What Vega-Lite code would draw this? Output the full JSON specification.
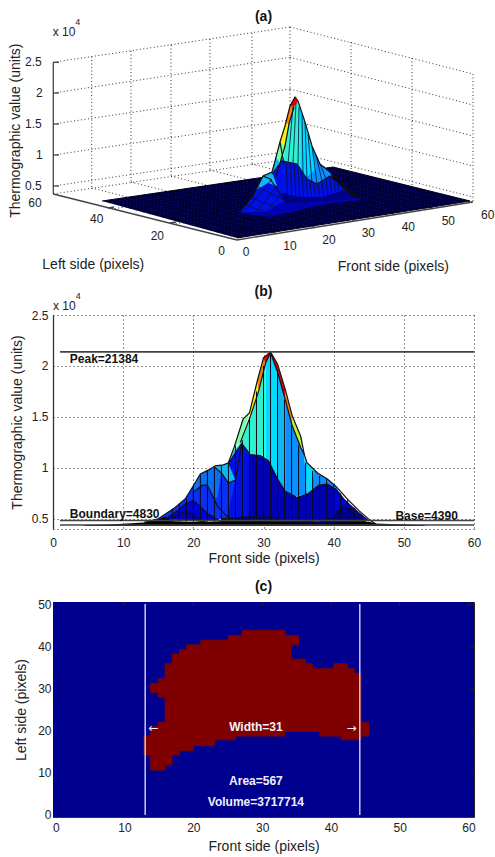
{
"$schema":"https://vega.github.io/schema/vega-lite/v6.json",
"padding":{"left":8,"top":9,"right":0,"bottom":0},
"bounds":"flush",
"spacing":73,
"background":"white",
"config":{"view":{"stroke":null},"font":"Liberation Sans",
"text":{"baseline":"middle"},
"axis":{"labelFont":"Liberation Sans","titleFont":"Liberation Sans","labelFontSize":12,"titleFontSize":14,"labelColor":"#222","titleColor":"#222","titleFontWeight":"normal"},
"title":{"font":"Liberation Sans","fontSize":14,"fontWeight":"bold","color":"#111"}},
"datasets":{
"aWalls":[
{"x":53.3,"y":63.3,"x2":290,"y2":28},{"x":53.3,"y":94,"x2":290,"y2":58.3},{"x":53.3,"y":125,"x2":290,"y2":90},{"x":53.3,"y":156,"x2":290,"y2":121},{"x":53.3,"y":187,"x2":290,"y2":152},{"x":53.3,"y":195,"x2":290,"y2":160},
{"x":290,"y":28,"x2":473,"y2":75},{"x":290,"y":58.3,"x2":473,"y2":106},{"x":290,"y":90,"x2":473,"y2":137},{"x":290,"y":121,"x2":473,"y2":167},{"x":290,"y":152,"x2":473,"y2":198},{"x":290,"y":160,"x2":473,"y2":203},
{"x":91.7,"y":57.5,"x2":91.7,"y2":189},{"x":131,"y":52,"x2":131,"y2":183},{"x":171,"y":46,"x2":171,"y2":177},{"x":210,"y":40,"x2":210,"y2":171},{"x":252,"y":34,"x2":252,"y2":165},{"x":290,"y":28,"x2":290,"y2":160},
{"x":351,"y":43,"x2":351,"y2":174},{"x":412,"y":59,"x2":412,"y2":189},{"x":473,"y":75,"x2":473,"y2":203},
{"x":91.7,"y":189,"x2":273,"y2":235},{"x":131,"y":183,"x2":311.5,"y2":229},{"x":171,"y":177,"x2":350,"y2":223},{"x":210,"y":171,"x2":388.7,"y2":216.6},{"x":252,"y":165,"x2":429,"y2":210},
{"x":351,"y":174,"x2":112,"y2":210},{"x":412,"y":189,"x2":172.7,"y2":225}
],
"aAxes":[
{"x":53.3,"y":63.3,"x2":53.3,"y2":195},{"x":53.3,"y":195,"x2":237,"y2":241},{"x":237,"y":241,"x2":473,"y2":203},
{"x":53.3,"y":63.3,"x2":59,"y2":63.3},{"x":53.3,"y":94,"x2":59,"y2":94},{"x":53.3,"y":125,"x2":59,"y2":125},{"x":53.3,"y":156,"x2":59,"y2":156},{"x":53.3,"y":187,"x2":59,"y2":187},
{"x":108,"y":209,"x2":114,"y2":208},{"x":170,"y":224,"x2":176,"y2":223},{"x":276,"y":235,"x2":273,"y2":232},{"x":315,"y":229,"x2":312,"y2":226},{"x":354,"y":222,"x2":351,"y2":219},{"x":394,"y":216,"x2":391,"y2":213},{"x":433,"y":210,"x2":430,"y2":207}
],
"aMesh":[
{"x":230.3,"y":237.2,"x2":463.2,"y2":200.3},{"x":223.5,"y":235.3,"x2":456.3,"y2":198.6},{"x":216.8,"y":233.5,"x2":449.5,"y2":196.9},{"x":210,"y":231.6,"x2":442.6,"y2":195.2},{"x":203.3,"y":229.8,"x2":435.8,"y2":193.5},{"x":196.5,"y":227.9,"x2":428.9,"y2":191.8},{"x":189.8,"y":226.1,"x2":422.1,"y2":190.1},{"x":183,"y":224.2,"x2":415.2,"y2":188.4},{"x":176.3,"y":222.4,"x2":408.4,"y2":186.7},{"x":169.5,"y":220.5,"x2":401.5,"y2":185},{"x":162.8,"y":218.7,"x2":394.7,"y2":183.3},{"x":156,"y":216.8,"x2":387.8,"y2":181.6},{"x":149.3,"y":215,"x2":381,"y2":179.9},{"x":142.5,"y":213.1,"x2":374.1,"y2":178.2},{"x":135.8,"y":211.3,"x2":367.3,"y2":176.5},{"x":129,"y":209.4,"x2":360.4,"y2":174.8},{"x":122.3,"y":207.6,"x2":353.6,"y2":173.1},{"x":115.5,"y":205.7,"x2":346.7,"y2":171.4},{"x":108.8,"y":203.9,"x2":339.9,"y2":169.7},
{"x":248.7,"y":237.2,"x2":113.6,"y2":200.3},{"x":260.3,"y":235.3,"x2":125.1,"y2":198.6},{"x":272,"y":233.5,"x2":136.7,"y2":196.9},{"x":283.6,"y":231.6,"x2":148.2,"y2":195.2},{"x":295.3,"y":229.8,"x2":159.8,"y2":193.5},{"x":306.9,"y":227.9,"x2":171.3,"y2":191.8},{"x":318.6,"y":226.1,"x2":182.9,"y2":190.1},{"x":330.2,"y":224.2,"x2":194.4,"y2":188.4},{"x":341.9,"y":222.4,"x2":206,"y2":186.7},{"x":353.5,"y":220.5,"x2":217.5,"y2":185},{"x":365.2,"y":218.7,"x2":229.1,"y2":183.3},{"x":376.8,"y":216.8,"x2":240.6,"y2":181.6},{"x":388.5,"y":215,"x2":252.2,"y2":179.9},{"x":400.1,"y":213.1,"x2":263.7,"y2":178.2},{"x":411.8,"y":211.3,"x2":275.3,"y2":176.5},{"x":423.4,"y":209.4,"x2":286.8,"y2":174.8},{"x":435.1,"y":207.6,"x2":298.4,"y2":173.1},{"x":446.7,"y":205.7,"x2":309.9,"y2":171.4},{"x":458.4,"y":203.9,"x2":321.5,"y2":169.7}
],
"aFloor":[{"p":"floor","b":"floor","x":102,"y":202},{"p":"floor","b":"floor","x":333,"y":168},{"p":"floor","b":"floor","x":470,"y":202},{"p":"floor","b":"floor","x":237,"y":239}],
"aPolys":[
{"p":"skirt","b":"dark","x":240,"y":214},{"p":"skirt","b":"dark","x":262,"y":203},{"p":"skirt","b":"dark","x":350,"y":197},{"p":"skirt","b":"dark","x":362,"y":201},{"p":"skirt","b":"dark","x":320,"y":206},{"p":"skirt","b":"dark","x":270,"y":218},
{"p":"sky","b":"sky","x":312,"y":147},{"p":"sky","b":"sky","x":320,"y":165},{"p":"sky","b":"sky","x":330,"y":173},{"p":"sky","b":"sky","x":332,"y":178},{"p":"sky","b":"sky","x":316,"y":186},{"p":"sky","b":"sky","x":305,"y":180},{"p":"sky","b":"sky","x":303,"y":160},
{"p":"cy","b":"cyan","x":298,"y":102},{"p":"cy","b":"cyan","x":305,"y":123},{"p":"cy","b":"cyan","x":312,"y":147},{"p":"cy","b":"cyan","x":316,"y":170},{"p":"cy","b":"cyan","x":305,"y":180},{"p":"cy","b":"cyan","x":297,"y":165},{"p":"cy","b":"cyan","x":299,"y":130},
{"p":"tl","b":"teal","x":293,"y":108},{"p":"tl","b":"teal","x":298,"y":102},{"p":"tl","b":"teal","x":301,"y":130},{"p":"tl","b":"teal","x":300,"y":168},{"p":"tl","b":"teal","x":283,"y":163},{"p":"tl","b":"teal","x":285,"y":148},{"p":"tl","b":"teal","x":288,"y":125},
{"p":"az","b":"azure","x":272,"y":175},{"p":"az","b":"azure","x":276,"y":157},{"p":"az","b":"azure","x":283,"y":157},{"p":"az","b":"azure","x":284,"y":165},{"p":"az","b":"azure","x":276,"y":180},
{"p":"gr","b":"green","x":276,"y":158},{"p":"gr","b":"green","x":280,"y":141},{"p":"gr","b":"green","x":285,"y":147},{"p":"gr","b":"green","x":283,"y":158},{"p":"gr","b":"green","x":280,"y":164},
{"p":"ye","b":"yellow","x":280,"y":143},{"p":"ye","b":"yellow","x":286,"y":122},{"p":"ye","b":"yellow","x":289,"y":125},{"p":"ye","b":"yellow","x":285,"y":147},
{"p":"or","b":"orange","x":286,"y":124},{"p":"or","b":"orange","x":290,"y":106},{"p":"or","b":"orange","x":294,"y":108},{"p":"or","b":"orange","x":289,"y":125},
{"p":"rd","b":"red","x":290,"y":107},{"p":"rd","b":"red","x":295,"y":98},{"p":"rd","b":"red","x":298,"y":102},{"p":"rd","b":"red","x":294,"y":108},
{"p":"arch","b":"blue1","x":272,"y":175},{"p":"arch","b":"blue1","x":282,"y":162},{"p":"arch","b":"blue1","x":297,"y":165},{"p":"arch","b":"blue1","x":307,"y":180},{"p":"arch","b":"blue1","x":317,"y":185},{"p":"arch","b":"blue1","x":330,"y":177},{"p":"arch","b":"blue1","x":343,"y":188},{"p":"arch","b":"blue1","x":353,"y":198},{"p":"arch","b":"blue1","x":360,"y":200},{"p":"arch","b":"blue1","x":300,"y":204},{"p":"arch","b":"blue1","x":277,"y":204},
{"p":"archlow","b":"navy","x":282,"y":194},{"p":"archlow","b":"navy","x":300,"y":198},{"p":"archlow","b":"navy","x":322,"y":198},{"p":"archlow","b":"navy","x":345,"y":191},{"p":"archlow","b":"navy","x":353,"y":198},{"p":"archlow","b":"navy","x":360,"y":200},{"p":"archlow","b":"navy","x":300,"y":204},{"p":"archlow","b":"navy","x":284,"y":204},
{"p":"lobe","b":"blue1","x":240,"y":213},{"p":"lobe","b":"blue1","x":253,"y":197},{"p":"lobe","b":"blue1","x":263,"y":177},{"p":"lobe","b":"blue1","x":272,"y":173},{"p":"lobe","b":"blue1","x":277,"y":187},{"p":"lobe","b":"blue1","x":284,"y":201},{"p":"lobe","b":"blue1","x":267,"y":213},
{"p":"lobetop","b":"azure","x":263,"y":177},{"p":"lobetop","b":"azure","x":272,"y":173},{"p":"lobetop","b":"azure","x":277,"y":187},{"p":"lobetop","b":"azure","x":268,"y":184},{"p":"lobetop","b":"azure","x":256,"y":191}
],
"aOutline":[
{"p":"s","x":240,"y":213},{"p":"s","x":253,"y":197},{"p":"s","x":263,"y":177},{"p":"s","x":272,"y":173},{"p":"s","x":275,"y":162},{"p":"s","x":280,"y":143},{"p":"s","x":285,"y":127},{"p":"s","x":290,"y":107},{"p":"s","x":295,"y":98},{"p":"s","x":298,"y":102},{"p":"s","x":305,"y":123},{"p":"s","x":312,"y":147},{"p":"s","x":320,"y":165},{"p":"s","x":330,"y":173},{"p":"s","x":338,"y":180},{"p":"s","x":348,"y":190},{"p":"s","x":360,"y":200},
{"p":"r","x":294,"y":108},{"p":"r","x":289,"y":125},{"p":"r","x":285,"y":147},{"p":"r","x":276,"y":178},
{"p":"g","x":280,"y":143},{"p":"g","x":284,"y":165},
{"p":"a","x":272,"y":175},{"p":"a","x":282,"y":162},{"p":"a","x":297,"y":165},{"p":"a","x":307,"y":180},{"p":"a","x":317,"y":185},{"p":"a","x":330,"y":177},{"p":"a","x":343,"y":188},{"p":"a","x":353,"y":198},
{"p":"l","x":263,"y":177},{"p":"l","x":270,"y":180},{"p":"l","x":277,"y":190},{"p":"l","x":285,"y":203}
],
"aStripes":[
{"x":293,"y":108,"x2":288,"y2":165},{"x":296,"y":104,"x2":293,"y2":164},{"x":299,"y":108,"x2":298,"y2":166},{"x":302,"y":115,"x2":303,"y2":174},{"x":305,"y":123,"x2":307,"y2":180},{"x":308,"y":135,"x2":312,"y2":184},{"x":312,"y":147,"x2":317,"y2":185},{"x":316,"y":156,"x2":322,"y2":182},{"x":320,"y":165,"x2":326,"y2":180},
{"x":286,"y":162,"x2":288,"y2":204},{"x":290,"y":163,"x2":292,"y2":204},{"x":294,"y":164,"x2":296,"y2":204},{"x":298,"y":167,"x2":300,"y2":204},{"x":302,"y":173,"x2":304,"y2":204},{"x":306,"y":179,"x2":308,"y2":203},{"x":310,"y":182,"x2":312,"y2":203},{"x":314,"y":184,"x2":316,"y2":202},{"x":318,"y":184,"x2":320,"y2":202},{"x":322,"y":182,"x2":324,"y2":202},{"x":326,"y":179,"x2":328,"y2":201},{"x":330,"y":177,"x2":332,"y2":201},{"x":334,"y":180,"x2":336,"y2":201},{"x":338,"y":184,"x2":340,"y2":201},{"x":342,"y":187,"x2":344,"y2":200},
{"x":246,"y":206,"x2":272,"y2":216},{"x":252,"y":199,"x2":280,"y2":210},{"x":258,"y":188,"x2":284,"y2":201},{"x":245,"y":212,"x2":272,"y2":180},{"x":255,"y":214,"x2":277,"y2":187},{"x":265,"y":214,"x2":281,"y2":195}
],
"aText":[
{"x":33.3,"y":63.3,"t":"2.5"},{"x":39.3,"y":94,"t":"2"},{"x":33.3,"y":125,"t":"1.5"},{"x":39.3,"y":156,"t":"1"},{"x":33.3,"y":187,"t":"0.5"},
{"x":35,"y":204,"t":"60"},{"x":96.7,"y":220,"t":"40"},{"x":157.3,"y":236.7,"t":"20"},{"x":221.7,"y":251.7,"t":"0"},
{"x":246,"y":252.7,"t":"0"},{"x":290,"y":246.7,"t":"10"},{"x":329,"y":240.7,"t":"20"},{"x":368.3,"y":234.3,"t":"30"},{"x":408.3,"y":228.3,"t":"40"},{"x":448.3,"y":222.3,"t":"50"},{"x":487.7,"y":216,"t":"60"},
{"x":64,"y":33.3,"t":"x 10"}
],
"aTitles":[{"x":93.3,"y":265.7,"t":"Left side (pixels)"},{"x":393.3,"y":267.7,"t":"Front side (pixels)"}],
"bPolys":[
{"p":"green","b":"green","x":25.8,"y":12000},{"p":"green","b":"green","x":27.1,"y":14800},{"p":"green","b":"green","x":28,"y":15400},{"p":"green","b":"green","x":26.7,"y":12500},
{"p":"ye","b":"yellow","x":28,"y":15400},{"p":"ye","b":"yellow","x":29.1,"y":18500},{"p":"ye","b":"yellow","x":29.3,"y":17500},{"p":"ye","b":"yellow","x":28.1,"y":15000},
{"p":"or","b":"orange","x":29.1,"y":18500},{"p":"or","b":"orange","x":30,"y":20800},{"p":"or","b":"orange","x":30.3,"y":20300},{"p":"or","b":"orange","x":29.3,"y":17500},
{"p":"rd","b":"red","x":30,"y":20800},{"p":"rd","b":"red","x":31,"y":21384},{"p":"rd","b":"red","x":32,"y":20200},{"p":"rd","b":"red","x":33.1,"y":17700},{"p":"rd","b":"red","x":33.1,"y":16700},{"p":"rd","b":"red","x":32,"y":19400},{"p":"rd","b":"red","x":31,"y":21300},{"p":"rd","b":"red","x":30.3,"y":20300},
{"p":"orr","b":"orange","x":33.1,"y":17700},{"p":"orr","b":"orange","x":34.1,"y":15100},{"p":"orr","b":"orange","x":34.1,"y":14100},{"p":"orr","b":"orange","x":33.1,"y":16700},
{"p":"lm","b":"lime","x":34.1,"y":15100},{"p":"lm","b":"lime","x":35.3,"y":13100},{"p":"lm","b":"lime","x":35.7,"y":12000},{"p":"lm","b":"lime","x":35.3,"y":12000},{"p":"lm","b":"lime","x":34.1,"y":14100},
{"p":"tl","b":"teal","x":25.8,"y":11700},{"p":"tl","b":"teal","x":26.7,"y":12500},{"p":"tl","b":"teal","x":28.1,"y":15000},{"p":"tl","b":"teal","x":29.3,"y":17500},{"p":"tl","b":"teal","x":30.3,"y":20300},{"p":"tl","b":"teal","x":30.3,"y":10000},{"p":"tl","b":"teal","x":26,"y":10000},
{"p":"cy","b":"cyan","x":30.3,"y":20300},{"p":"cy","b":"cyan","x":31,"y":21300},{"p":"cy","b":"cyan","x":32,"y":19400},{"p":"cy","b":"cyan","x":33.1,"y":16700},{"p":"cy","b":"cyan","x":33.1,"y":7500},{"p":"cy","b":"cyan","x":30.3,"y":8000},
{"p":"az2","b":"azure","x":32,"y":19400},{"p":"az2","b":"azure","x":33.1,"y":16700},{"p":"az2","b":"azure","x":33.1,"y":7500},{"p":"az2","b":"azure","x":32,"y":8000},
{"p":"sky","b":"sky","x":33.1,"y":16700},{"p":"sky","b":"sky","x":34.1,"y":14100},{"p":"sky","b":"sky","x":35.3,"y":12000},{"p":"sky","b":"sky","x":35.8,"y":11300},{"p":"sky","b":"sky","x":36.2,"y":7400},{"p":"sky","b":"sky","x":33.1,"y":7000},
{"p":"cr","b":"cyan","x":35.8,"y":11300},{"p":"cr","b":"cyan","x":36.2,"y":10500},{"p":"cr","b":"cyan","x":37.7,"y":9500},{"p":"cr","b":"cyan","x":38,"y":8000},{"p":"cr","b":"cyan","x":36.2,"y":7400},
{"p":"sr","b":"sky","x":37.2,"y":9800},{"p":"sr","b":"sky","x":37.7,"y":9500},{"p":"sr","b":"sky","x":39.1,"y":8900},{"p":"sr","b":"sky","x":40.3,"y":8200},{"p":"sr","b":"sky","x":41.5,"y":6900},{"p":"sr","b":"sky","x":40,"y":7900},{"p":"sr","b":"sky","x":37,"y":8000},
{"p":"lowerleft","b":"blue2","x":15,"y":5000},{"p":"lowerleft","b":"blue2","x":17.2,"y":6000},{"p":"lowerleft","b":"blue2","x":18.9,"y":7000},{"p":"lowerleft","b":"blue2","x":20,"y":8250},{"p":"lowerleft","b":"blue2","x":24,"y":9500},{"p":"lowerleft","b":"blue2","x":25,"y":8500},{"p":"lowerleft","b":"blue2","x":26,"y":8800},{"p":"lowerleft","b":"blue2","x":28,"y":5200},{"p":"lowerleft","b":"blue2","x":15,"y":4600},
{"p":"lb","b":"blue3","x":20,"y":8250},{"p":"lb","b":"blue3","x":21,"y":9400},{"p":"lb","b":"blue3","x":22.2,"y":9800},{"p":"lb","b":"blue3","x":23,"y":10100},{"p":"lb","b":"blue3","x":24,"y":9500},{"p":"lb","b":"blue3","x":23.4,"y":7000},{"p":"lb","b":"blue3","x":20,"y":7600},
{"p":"azp","b":"azure","x":23,"y":10100},{"p":"azp","b":"azure","x":24.3,"y":10300},{"p":"azp","b":"azure","x":25,"y":10500},{"p":"azp","b":"azure","x":25.8,"y":11700},{"p":"azp","b":"azure","x":26.3,"y":12000},{"p":"azp","b":"azure","x":26,"y":8800},{"p":"azp","b":"azure","x":25,"y":8500},{"p":"azp","b":"azure","x":24,"y":9500},
{"p":"bl1","b":"blue1","x":25,"y":10400},{"p":"bl1","b":"blue1","x":26.9,"y":12400},{"p":"bl1","b":"blue1","x":28.1,"y":11300},{"p":"bl1","b":"blue1","x":28.1,"y":5200},{"p":"bl1","b":"blue1","x":24.8,"y":5200},{"p":"bl1","b":"blue1","x":26,"y":8800},
{"p":"dk","b":"dark","x":28,"y":11300},{"p":"dk","b":"dark","x":29.5,"y":11200},{"p":"dk","b":"dark","x":30.7,"y":10700},{"p":"dk","b":"dark","x":32,"y":8900},{"p":"dk","b":"dark","x":33.1,"y":7700},{"p":"dk","b":"dark","x":34.8,"y":7100},{"p":"dk","b":"dark","x":36.2,"y":7400},{"p":"dk","b":"dark","x":37.9,"y":8300},{"p":"dk","b":"dark","x":39.1,"y":8400},{"p":"dk","b":"dark","x":40.3,"y":7900},{"p":"dk","b":"dark","x":41.5,"y":6900},{"p":"dk","b":"dark","x":42.9,"y":6000},{"p":"dk","b":"dark","x":45,"y":4800},{"p":"dk","b":"dark","x":28,"y":4800},
{"p":"br","b":"blue0","x":40.3,"y":7900},{"p":"br","b":"blue0","x":41.5,"y":6900},{"p":"br","b":"blue0","x":42.9,"y":6000},{"p":"br","b":"blue0","x":45,"y":4800},{"p":"br","b":"blue0","x":43.9,"y":5000},{"p":"br","b":"blue0","x":42.4,"y":6000},{"p":"br","b":"blue0","x":41.2,"y":6200},{"p":"br","b":"blue0","x":39.8,"y":5100},
{"p":"bump","b":"blue2","x":20,"y":7600},{"p":"bump","b":"blue2","x":21.3,"y":8300},{"p":"bump","b":"blue2","x":22,"y":8300},{"p":"bump","b":"blue2","x":23.4,"y":6300},{"p":"bump","b":"blue2","x":24.8,"y":5200},{"p":"bump","b":"blue2","x":26.2,"y":5000},{"p":"bump","b":"blue2","x":17,"y":4800},
{"p":"l1","b":"blue0","x":16,"y":5000},{"p":"l1","b":"blue0","x":17.2,"y":5500},{"p":"l1","b":"blue0","x":18.9,"y":6500},{"p":"l1","b":"blue0","x":20,"y":6800},{"p":"l1","b":"blue0","x":21,"y":6200},{"p":"l1","b":"blue0","x":22,"y":5500},{"p":"l1","b":"blue0","x":24,"y":4700},
{"p":"l2","b":"dark","x":17,"y":5100},{"p":"l2","b":"dark","x":18,"y":5500},{"p":"l2","b":"dark","x":19,"y":5800},{"p":"l2","b":"dark","x":20.3,"y":5200},{"p":"l2","b":"dark","x":22,"y":4600},
{"p":"front","b":"navy","x":24,"y":5000},{"p":"front","b":"navy","x":29.6,"y":5300},{"p":"front","b":"navy","x":33,"y":4800},{"p":"front","b":"navy","x":37.9,"y":4700},{"p":"front","b":"navy","x":39.8,"y":5100},{"p":"front","b":"navy","x":41.2,"y":6200},{"p":"front","b":"navy","x":42.4,"y":6000},{"p":"front","b":"navy","x":43.9,"y":5000},{"p":"front","b":"navy","x":45,"y":4600},{"p":"front","b":"navy","x":24,"y":4400},
{"p":"base","b":"black","x":4.5,"y":4370},{"p":"base","b":"black","x":8,"y":4450},{"p":"base","b":"black","x":13,"y":4650},{"p":"base","b":"black","x":15,"y":4950},{"p":"base","b":"black","x":16,"y":5200},{"p":"base","b":"black","x":17,"y":4800},{"p":"base","b":"black","x":17,"y":4700},{"p":"base","b":"black","x":30,"y":4720},{"p":"base","b":"black","x":38,"y":4600},{"p":"base","b":"black","x":45,"y":4700},{"p":"base","b":"black","x":46,"y":4550},{"p":"base","b":"black","x":53,"y":4370},{"p":"base","b":"black","x":53,"y":4300},{"p":"base","b":"black","x":4.5,"y":4300}
],
"bOutline":[
{"p":"s","x":13,"y":4650},{"p":"s","x":15,"y":5000},{"p":"s","x":17.2,"y":6000},{"p":"s","x":18.9,"y":7000},{"p":"s","x":20,"y":8250},{"p":"s","x":21,"y":9400},{"p":"s","x":22.2,"y":9800},{"p":"s","x":23.1,"y":10200},{"p":"s","x":24.3,"y":10300},{"p":"s","x":25,"y":10500},{"p":"s","x":25.8,"y":12000},{"p":"s","x":27.1,"y":14800},{"p":"s","x":28,"y":15400},{"p":"s","x":29.1,"y":18500},{"p":"s","x":30,"y":20800},{"p":"s","x":31,"y":21384},{"p":"s","x":32,"y":20200},{"p":"s","x":33.1,"y":17700},{"p":"s","x":34.1,"y":15100},{"p":"s","x":35.3,"y":13100},{"p":"s","x":35.8,"y":11350},{"p":"s","x":36.2,"y":10500},{"p":"s","x":37.7,"y":9500},{"p":"s","x":39.1,"y":8900},{"p":"s","x":40.3,"y":8200},{"p":"s","x":42,"y":6900},{"p":"s","x":43.6,"y":5800},{"p":"s","x":45.3,"y":4800},{"p":"s","x":46,"y":4500},
{"p":"c","x":26.7,"y":12500},{"p":"c","x":28.1,"y":15000},{"p":"c","x":29.3,"y":17500},{"p":"c","x":30.3,"y":20300},{"p":"c","x":31,"y":21300},{"p":"c","x":32,"y":19400},{"p":"c","x":33.1,"y":16700},{"p":"c","x":34.1,"y":14100},{"p":"c","x":35.3,"y":12000},{"p":"c","x":35.8,"y":11350},
{"p":"d","x":25,"y":10400},{"p":"d","x":26.9,"y":12400},{"p":"d","x":28.1,"y":11300},{"p":"d","x":29.5,"y":11200},{"p":"d","x":30.7,"y":10700},{"p":"d","x":32,"y":8900},{"p":"d","x":33.1,"y":7700},{"p":"d","x":34.8,"y":7100},{"p":"d","x":36.2,"y":7400},{"p":"d","x":37.9,"y":8300},{"p":"d","x":39.1,"y":8400},{"p":"d","x":40.3,"y":7900},{"p":"d","x":41.5,"y":6900},{"p":"d","x":42.9,"y":6000},{"p":"d","x":45,"y":4800},
{"p":"e","x":23,"y":10100},{"p":"e","x":24,"y":9500},{"p":"e","x":25,"y":8500},{"p":"e","x":26,"y":8800},{"p":"e","x":26.9,"y":12400},
{"p":"f","x":20,"y":7600},{"p":"f","x":21.3,"y":8300},{"p":"f","x":22,"y":8300},{"p":"f","x":23.4,"y":6300},{"p":"f","x":24.8,"y":5200},{"p":"f","x":26.2,"y":5000},
{"p":"g","x":16,"y":5000},{"p":"g","x":17.2,"y":5500},{"p":"g","x":18.9,"y":6500},{"p":"g","x":20,"y":6800},{"p":"g","x":21,"y":6200},{"p":"g","x":22,"y":5500},{"p":"g","x":24,"y":4700},
{"p":"h","x":17,"y":5100},{"p":"h","x":18,"y":5500},{"p":"h","x":19,"y":5800},{"p":"h","x":20.3,"y":5200},{"p":"h","x":22,"y":4600},
{"p":"i","x":24,"y":5000},{"p":"i","x":29.6,"y":5300},{"p":"i","x":33,"y":4800},{"p":"i","x":37.9,"y":4700},{"p":"i","x":39.8,"y":5100},{"p":"i","x":41.2,"y":6200},{"p":"i","x":42.4,"y":6000},{"p":"i","x":43.9,"y":5000}
],
"bColumns":[
{"x":17,"top":6000},{"x":18,"top":6500},{"x":19,"top":7000},{"x":20,"top":8250},{"x":21,"top":9300},{"x":22,"top":9700},{"x":23,"top":10100},{"x":24,"top":10200},{"x":25,"top":10400},{"x":26,"top":12200},{"x":27,"top":12700},{"x":28,"top":15000},{"x":29,"top":17500},{"x":30,"top":20000},{"x":31,"top":21300},{"x":32,"top":19400},{"x":33,"top":16700},{"x":34,"top":14200},{"x":35,"top":12200},{"x":36,"top":10500},{"x":37,"top":9700},{"x":38,"top":9200},{"x":39,"top":8900},{"x":40,"top":8300},{"x":41,"top":7500},{"x":42,"top":6900},{"x":43,"top":6100},{"x":44,"top":5400}
],
"bLines":[
{"k":"Peak","x":1,"x2":60,"y":21384},{"k":"Boundary","x":1,"x2":60,"y":4830},{"k":"Base","x":1,"x2":60,"y":4390}
],
"cBg":[{"k":"bg","x":-0.4,"x2":60.8,"y":-0.48,"y2":50.7}],
"cSpans":[
{"k":"r","x":27.1,"x2":33.3,"y":42.7,"y2":44},{"k":"r","x":25.1,"x2":35.3,"y":41.6,"y2":42.7},{"k":"r","x":21.1,"x2":35.3,"y":40.5,"y2":41.6},{"k":"r","x":19,"x2":34.2,"y":39.4,"y2":40.5},{"k":"r","x":18,"x2":34.2,"y":38.3,"y2":39.4},{"k":"r","x":16.9,"x2":34.2,"y":37.1,"y2":38.3},{"k":"r","x":16.9,"x2":36.3,"y":36,"y2":37.1},{"k":"r","x":15.9,"x2":37.3,"y":34.8,"y2":36},{"k":"r","x":40.4,"x2":42.4,"y":34.8,"y2":36},{"k":"r","x":15.9,"x2":43.4,"y":33.7,"y2":34.8},{"k":"r","x":15.9,"x2":44.4,"y":32.4,"y2":33.7},{"k":"r","x":14.9,"x2":44.4,"y":31.3,"y2":32.4},{"k":"r","x":13.8,"x2":44.4,"y":29.2,"y2":31.3},{"k":"r","x":14.9,"x2":44.4,"y":28.1,"y2":29.2},{"k":"r","x":15.9,"x2":44.4,"y":22.1,"y2":28.1},{"k":"r","x":14.9,"x2":45.5,"y":21,"y2":22.1},{"k":"r","x":13.8,"x2":45.5,"y":19.9,"y2":21},{"k":"r","x":13.8,"x2":33.3,"y":18.8,"y2":19.9},{"k":"r","x":38.4,"x2":45.5,"y":18.8,"y2":19.9},{"k":"r","x":12.8,"x2":26.1,"y":17.9,"y2":18.8},{"k":"r","x":41.5,"x2":44.4,"y":17.9,"y2":18.8},{"k":"r","x":12.8,"x2":23.1,"y":16.5,"y2":17.9},{"k":"r","x":12.8,"x2":20,"y":15.4,"y2":16.5},{"k":"r","x":12.8,"x2":18,"y":14.3,"y2":15.4},{"k":"r","x":13.8,"x2":16.9,"y":11.9,"y2":14.3},{"k":"r","x":13.8,"x2":15.9,"y":10.7,"y2":11.9}
],
"cBounds":[{"x":13},{"x":44.2}],
"cTicks":[{"x":10,"x2":10,"y":50.7,"y2":49.8},{"x":20,"x2":20,"y":50.7,"y2":49.8},{"x":30,"x2":30,"y":50.7,"y2":49.8},{"x":40,"x2":40,"y":50.7,"y2":49.8},{"x":50,"x2":50,"y":50.7,"y2":49.8},{"x":60,"x2":60,"y":50.7,"y2":49.8},{"x":60.8,"x2":60.2,"y":10,"y2":10},{"x":60.8,"x2":60.2,"y":20,"y2":20},{"x":60.8,"x2":60.2,"y":30,"y2":30},{"x":60.8,"x2":60.2,"y":40,"y2":40},{"x":60.8,"x2":60.2,"y":50,"y2":50}],
"cText":[{"x":29.1,"y":21,"t":"Width=31"},{"x":29.1,"y":8,"t":"Area=567"},{"x":29.1,"y":3,"t":"Volume=3717714"}],
"cArrows":[{"x":14.2,"y":20.6,"t":"\u2190"},{"x":43,"y":20.6,"t":"\u2192"}]
},
"vconcat":[
{"width":421,"height":215,
"title":{"text":"(a)","offset":-6},
"layer":[
{"data":{"name":"aWalls"},"mark":{"type":"rule","color":"#333","strokeWidth":1,"strokeDash":[1,2.5]},"encoding":{"x":{"field":"x","type":"quantitative","axis":null,"scale":{"domain":[53,474],"nice":false,"zero":false}},"y":{"field":"y","type":"quantitative","axis":null,"scale":{"domain":[243,28],"nice":false,"zero":false}},"x2":{"field":"x2"},"y2":{"field":"y2"}}},
{"data":{"name":"aAxes"},"mark":{"type":"rule","color":"#444","strokeWidth":1.3},"encoding":{"x":{"field":"x","type":"quantitative"},"y":{"field":"y","type":"quantitative"},"x2":{"field":"x2"},"y2":{"field":"y2"}}},
{"data":{"name":"aFloor"},"mark":{"type":"line","fill":"#00002c","stroke":"#000020","strokeWidth":1},"encoding":{"x":{"field":"x","type":"quantitative"},"y":{"field":"y","type":"quantitative"},"detail":{"field":"p"},"order":{"value":null}}},
{"data":{"name":"aMesh"},"mark":{"type":"rule","color":"#0808c8","strokeWidth":0.6,"strokeDash":[1.5,2]},"encoding":{"x":{"field":"x","type":"quantitative"},"y":{"field":"y","type":"quantitative"},"x2":{"field":"x2"},"y2":{"field":"y2"}}},
{"data":{"name":"aPolys"},"mark":{"type":"line","strokeWidth":0},"encoding":{"x":{"field":"x","type":"quantitative"},"y":{"field":"y","type":"quantitative"},"detail":{"field":"p"},"order":{"value":null},"fill":{"field":"b","type":"nominal","legend":null,"scale":{"domain":["black","floor","navy","dark","blue0","blue1","blue2","blue3","sky","azure","cyan","teal","green","lime","yellow","orange","red"],"range":["#000000","#000050","#00008c","#0000b4","#0000d8","#0010e6","#0a30f5","#0a70f0","#0a90ff","#10b8f0","#00dcff","#30f0d0","#80ffa0","#c0f030","#fff000","#ff8000","#e00000"]}}}},
{"data":{"name":"aStripes"},"mark":{"type":"rule","color":"#001040","strokeWidth":0.8},"encoding":{"x":{"field":"x","type":"quantitative"},"y":{"field":"y","type":"quantitative"},"x2":{"field":"x2"},"y2":{"field":"y2"}}},
{"data":{"name":"aOutline"},"mark":{"type":"line","color":"#101018","strokeWidth":1.2},"encoding":{"x":{"field":"x","type":"quantitative"},"y":{"field":"y","type":"quantitative"},"detail":{"field":"p"},"order":{"value":null}}},
{"data":{"name":"aText"},"mark":{"type":"text","font":"Liberation Sans","fontSize":12,"color":"#222"},"encoding":{"x":{"field":"x","type":"quantitative"},"y":{"field":"y","type":"quantitative"},"text":{"field":"t"}}},
{"data":{"values":[{"x":77.7,"y":22.7,"t":"4"}]},"mark":{"type":"text","font":"Liberation Sans","fontSize":9,"color":"#222"},"encoding":{"x":{"field":"x","type":"quantitative"},"y":{"field":"y","type":"quantitative"},"text":{"field":"t"}}},
{"data":{"name":"aTitles"},"mark":{"type":"text","font":"Liberation Sans","fontSize":14,"color":"#222"},"encoding":{"x":{"field":"x","type":"quantitative"},"y":{"field":"y","type":"quantitative"},"text":{"field":"t"}}},
{"data":{"values":[{"x":16,"y":131.7,"t":"Thermographic value (units)"}]},"mark":{"type":"text","font":"Liberation Sans","fontSize":14,"color":"#222","angle":270},"encoding":{"x":{"field":"x","type":"quantitative"},"y":{"field":"y","type":"quantitative"},"text":{"field":"t"}}}
]},
{"width":421,"height":214,
"title":{"text":"(b)","offset":-7},
"layer":[
{"data":{"name":"bLines"},"mark":{"type":"rule","strokeWidth":0},"encoding":{
"x":{"field":"x","type":"quantitative","title":"Front side (pixels)","scale":{"domain":[0,60],"nice":false},"axis":{"values":[0,10,20,30,40,50,60],"grid":true,"gridDash":[1,3],"gridColor":"#222","domain":false,"ticks":false,"labelPadding":8,"titleY":22,"labelFlush":false}},
"y":{"field":"y","type":"quantitative","title":"Thermographic value (units)","scale":{"domain":[4000,25000],"nice":false,"zero":false},"axis":{"values":[4000,5000,10000,15000,20000,25000],"labelExpr":"datum.value==4000?'':format(datum.value/10000,'.2~f')","grid":true,"gridDash":[1,3],"gridColor":"#222","domain":true,"domainColor":"#333","domainWidth":1.3,"ticks":false,"labelPadding":5,"titleX":-28.5}}}},
{"data":{"name":"bPolys"},"mark":{"type":"line","strokeWidth":0},"encoding":{"x":{"field":"x","type":"quantitative"},"y":{"field":"y","type":"quantitative"},"detail":{"field":"p"},"order":{"value":null},"fill":{"field":"b","type":"nominal","legend":null,"scale":{"domain":["black","floor","navy","dark","blue0","blue1","blue2","blue3","sky","azure","cyan","teal","green","lime","yellow","orange","red"],"range":["#000000","#000050","#00008c","#0000b4","#0000d8","#0010e6","#0a30f5","#0a70f0","#0a90ff","#10b8f0","#00dcff","#30f0d0","#80ffa0","#c0f030","#fff000","#ff8000","#e00000"]}}}},
{"data":{"name":"bColumns"},"mark":{"type":"rule","color":"#08081c","strokeWidth":1},"encoding":{"x":{"field":"x","type":"quantitative"},"y":{"field":"top","type":"quantitative"},"y2":{"datum":4400}}},
{"data":{"name":"bOutline"},"mark":{"type":"line","color":"#101018","strokeWidth":1.2},"encoding":{"x":{"field":"x","type":"quantitative"},"y":{"field":"y","type":"quantitative"},"detail":{"field":"p"},"order":{"value":null}}},
{"data":{"name":"bLines"},"mark":{"type":"rule","color":"#444","strokeWidth":1.6},"encoding":{"x":{"field":"x","type":"quantitative"},"x2":{"field":"x2"},"y":{"field":"y","type":"quantitative"}}},
{"data":{"values":[{"x":2.4,"y":20700,"t":"Peak=21384"},{"x":2.4,"y":5470,"t":"Boundary=4830"},{"x":48.8,"y":5240,"t":"Base=4390"}]},"mark":{"type":"text","font":"Liberation Sans","fontWeight":"bold","fontSize":12,"align":"left","color":"#111"},"encoding":{"x":{"field":"x","type":"quantitative"},"y":{"field":"y","type":"quantitative"},"text":{"field":"t"}}},
{"data":{"values":[{"x":1.6,"y":25000,"t":"x 10"}]},"mark":{"type":"text","font":"Liberation Sans","fontSize":12,"color":"#222","dy":-9},"encoding":{"x":{"field":"x","type":"quantitative"},"y":{"field":"y","type":"quantitative"},"text":{"field":"t"}}},
{"data":{"values":[{"x":3.6,"y":25000,"t":"4"}]},"mark":{"type":"text","font":"Liberation Sans","fontSize":9,"color":"#222","dy":-19},"encoding":{"x":{"field":"x","type":"quantitative"},"y":{"field":"y","type":"quantitative"},"text":{"field":"t"}}}
]},
{"width":421,"height":215,
"view":{"stroke":"#222"},
"title":{"text":"(c)","offset":5},
"layer":[
{"data":{"name":"cBg"},"mark":{"type":"rect","fill":"#00008f"},"encoding":{
"x":{"field":"x","type":"quantitative","title":"Front side (pixels)","scale":{"domain":[-0.4,60.8],"nice":false,"zero":false},"axis":{"values":[0,10,20,30,40,50,60],"grid":false,"domainColor":"#333","tickColor":"#222","tickSize":-4,"labelPadding":9,"titleY":22,"labelFlush":false}},
"x2":{"field":"x2"},
"y":{"field":"y","type":"quantitative","title":"Left side (pixels)","scale":{"domain":[-0.48,50.7],"nice":false,"zero":false},"axis":{"values":[0,10,20,30,40,50],"grid":false,"domainColor":"#333","tickColor":"#222","tickSize":-4,"labelPadding":6,"titleX":-24.5}},
"y2":{"field":"y2"}}},
{"data":{"name":"cSpans"},"mark":{"type":"rect","fill":"#800000","stroke":"#800000","strokeWidth":0.9},"encoding":{"x":{"field":"x","type":"quantitative"},"x2":{"field":"x2"},"y":{"field":"y","type":"quantitative"},"y2":{"field":"y2"}}},
{"data":{"name":"cBounds"},"mark":{"type":"rule","color":"#d8d8ec","strokeWidth":1.4},"encoding":{"x":{"field":"x","type":"quantitative"},"y":{"datum":0,"type":"quantitative"},"y2":{"datum":50.2}}},
{"data":{"name":"cTicks"},"mark":{"type":"rule","color":"#222","strokeWidth":1},"encoding":{"x":{"field":"x","type":"quantitative"},"x2":{"field":"x2"},"y":{"field":"y","type":"quantitative"},"y2":{"field":"y2"}}},
{"data":{"name":"cText"},"mark":{"type":"text","font":"Liberation Sans","fontWeight":"bold","fontSize":12,"color":"#f0f0f8"},"encoding":{"x":{"field":"x","type":"quantitative"},"y":{"field":"y","type":"quantitative"},"text":{"field":"t"}}},
{"data":{"name":"cArrows"},"mark":{"type":"text","font":"DejaVu Sans","fontSize":12,"color":"#f0f0f8"},"encoding":{"x":{"field":"x","type":"quantitative"},"y":{"field":"y","type":"quantitative"},"text":{"field":"t"}}}
]}
]
}
